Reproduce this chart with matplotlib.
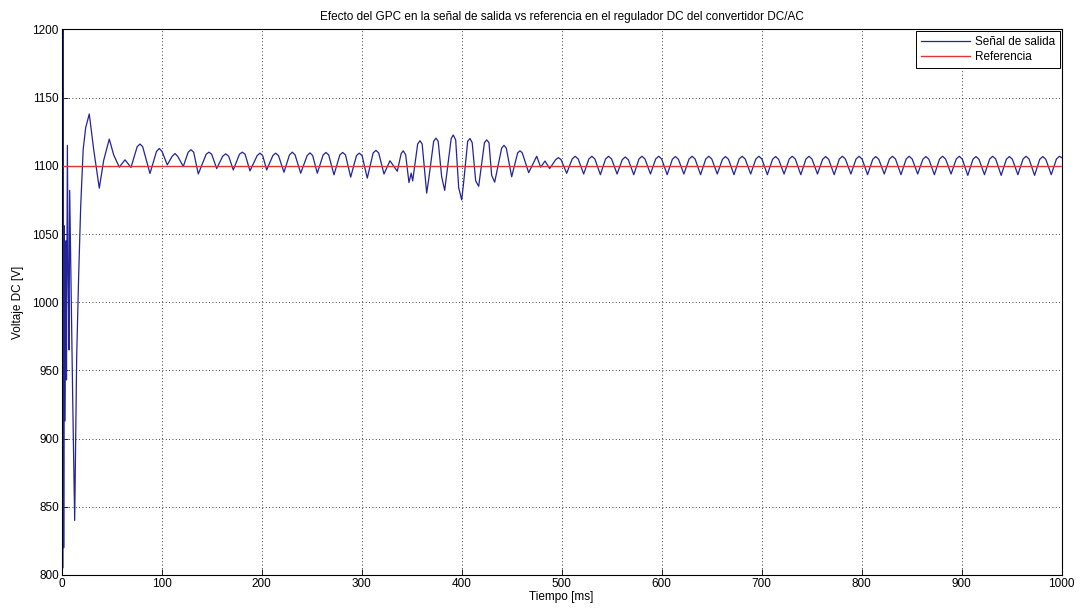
import numpy as np
import matplotlib.pyplot as plt

# ##### DATA #######################################

# transient + first damped oscillations (t in ms, V in volts)
t_start = [0, 0.5, 1.0, 1.5, 2.0, 2.6, 3.4, 4.2, 4.8, 5.7, 6.5, 7.4, 8.0, 9.0, 11.0, 13.0,
           15.0, 17.0, 19.0, 21.5, 24.0, 27.6, 32.0, 37.6, 42.0, 47.6, 52.0,
           57.6, 63.3, 69.3, 75.5, 78.3, 81.0, 88.3, 94.8, 97.6, 100.4, 105.6, 110.5, 113.3, 116.0, 121.6]
v_start = [790, 1300, 805, 1300, 820, 1056, 913, 1045, 943, 1115, 1020, 965, 1082, 1030, 930, 840,
           960, 1020, 1070, 1112, 1128, 1138, 1112, 1083.6, 1104, 1119.6, 1108,
           1099, 1104.4, 1098.8, 1114, 1116, 1114, 1094.4, 1110.5, 1112.7, 1110.5, 1100.7, 1107, 1109, 1107, 1099.5]

# regular ripple 125..340 ms (broad rounded tops, narrow troughs)
t_mid = [126.5, 129.3, 132.0, 136.6, 144.5, 147.3, 150.0, 155.0, 161.0, 164.0, 167.0, 171.6,
         177.8, 180.6, 183.4, 188.3, 195.5, 198.3, 201.0, 205.0, 211.2, 214.0, 216.8, 222.3,
         227.8, 230.6, 233.4, 239.0, 245.5, 248.3, 251.0, 255.6, 261.5, 264.3, 267.0, 272.3,
         278.2, 281.0, 283.8, 289.0, 294.8, 297.6, 300.4, 305.6, 311.5, 314.3, 317.0, 322.3,
         328.3, 335.6]
v_mid = [1110.0, 1111.8, 1110.0, 1094.0, 1108.5, 1110.0, 1108.5, 1098.0, 1107.0, 1108.8, 1107.0, 1097.0,
         1108.5, 1110.0, 1108.5, 1096.3, 1107.5, 1109.3, 1107.5, 1097.0, 1107.5, 1109.3, 1107.5, 1095.3,
         1108.0, 1110.0, 1108.0, 1094.6, 1107.5, 1109.5, 1107.5, 1094.6, 1108.0, 1109.8, 1108.0, 1093.4,
         1108.0, 1109.8, 1108.0, 1091.7, 1107.5, 1109.3, 1107.5, 1091.0, 1109.5, 1111.3, 1109.5, 1094.0,
         1103.7, 1096.0]

# disturbed part 340..505 ms
t_dist = [339.5, 341.6, 344.0, 347.3, 349.5, 351.0, 356.0, 358.3, 360.5, 365.0, 367.0, 372.0, 374.3, 376.5,
          380.0, 383.0, 389.5, 391.6, 394.0, 397.0, 400.0, 402.0, 406.0, 408.3, 410.5, 414.0, 417.0,
          422.8, 425.0, 427.3, 430.0, 433.0, 440.0, 442.3, 444.6, 450.0, 456.0, 458.3, 460.6, 467.0,
          475.0, 479.0, 483.3, 488.0, 494.0, 496.7, 499.4, 505.0]
v_dist = [1109.0, 1111.0, 1108.0, 1087.7, 1094.6, 1089.0, 1116.0, 1118.4, 1116.0, 1080.0, 1090.0, 1118.0, 1120.3, 1118.0,
          1092.0, 1082.0, 1120.0, 1122.6, 1119.0, 1084.0, 1075.0, 1088.0, 1118.0, 1120.0, 1117.0, 1089.0, 1085.0,
          1117.0, 1119.0, 1117.0, 1093.0, 1088.0, 1113.0, 1115.0, 1113.0, 1092.0, 1109.5, 1111.0, 1109.5, 1095.0,
          1107.0, 1099.0, 1103.5, 1098.0, 1104.5, 1106.0, 1104.5, 1094.5]

# steady state ripple 510..1000 ms: per cycle rounded top (3 points) and a narrow trough
t_end = [510.5, 513.5, 516.5, 522.0,  527.2, 530.2, 533.2, 538.7,  543.9, 546.9, 549.9, 555.4,
         560.6, 563.6, 566.6, 572.1,  577.3, 580.3, 583.3, 588.8,  594.0, 597.0, 600.0, 605.5,
         610.7, 613.7, 616.7, 622.2,  627.4, 630.4, 633.4, 638.9,  644.1, 647.1, 650.1, 655.6,
         660.8, 663.8, 666.8, 672.3,  677.5, 680.5, 683.5, 689.0,  694.2, 697.2, 700.2, 705.7,
         710.9, 713.9, 716.9, 722.4,  727.6, 730.6, 733.6, 739.1,  744.3, 747.3, 750.3, 755.8,
         761.0, 764.0, 767.0, 772.5,  777.7, 780.7, 783.7, 789.2,  794.4, 797.4, 800.4, 805.9,
         811.1, 814.1, 817.1, 822.6,  827.8, 830.8, 833.8, 839.3,  844.5, 847.5, 850.5, 856.0,
         861.2, 864.2, 867.2, 872.7,  877.9, 880.9, 883.9, 889.4,  894.6, 897.6, 900.6, 906.1,
         911.3, 914.3, 917.3, 922.8,  928.0, 931.0, 934.0, 939.5,  944.7, 947.7, 950.7, 956.2,
         961.4, 964.4, 967.4, 972.9,  978.1, 981.1, 984.1, 989.6,  994.8, 997.8, 1000.0]
v_end = [1105.0, 1107.0, 1105.0, 1094.0,  1105.0, 1107.0, 1105.0, 1093.5,  1105.0, 1107.0, 1105.0, 1094.0,
         1104.5, 1106.5, 1104.5, 1093.5,  1105.0, 1107.0, 1105.0, 1094.0,  1105.0, 1107.0, 1105.0, 1093.5,
         1104.8, 1106.8, 1104.8, 1094.0,  1105.0, 1107.0, 1105.0, 1093.5,  1105.0, 1107.0, 1105.0, 1094.0,
         1104.8, 1106.8, 1104.8, 1093.5,  1105.0, 1107.0, 1105.0, 1094.0,  1105.0, 1107.0, 1105.0, 1093.5,
         1104.8, 1106.8, 1104.8, 1094.0,  1105.0, 1107.0, 1105.0, 1093.5,  1105.0, 1107.0, 1105.0, 1094.0,
         1104.8, 1106.8, 1104.8, 1093.5,  1105.0, 1107.0, 1105.0, 1094.0,  1105.0, 1107.0, 1105.0, 1093.5,
         1104.8, 1106.8, 1104.8, 1094.0,  1105.0, 1107.0, 1105.0, 1093.5,  1105.0, 1107.0, 1105.0, 1094.0,
         1104.8, 1106.8, 1104.8, 1093.5,  1105.0, 1107.0, 1105.0, 1094.0,  1105.0, 1107.0, 1105.0, 1093.0,
         1104.8, 1106.8, 1104.8, 1093.5,  1105.0, 1107.0, 1105.0, 1093.0,  1104.8, 1106.8, 1104.8, 1093.5,
         1105.0, 1107.0, 1105.0, 1093.0,  1104.8, 1106.8, 1104.8, 1093.5,  1105.0, 1107.0, 1106.0]

t_ref = [0, 1000]
v_ref = [1100, 1100]

######################

t_out = np.array(t_start + t_mid + t_dist + t_end)
v_out = np.array(v_start + v_mid + v_dist + v_end)

plt.rcParams['font.family'] = ['Liberation Sans', 'DejaVu Sans']
plt.rcParams['font.size'] = 8.5

fig = plt.figure(figsize=(10.84, 6.13), dpi=100)
ax = fig.add_axes([0.0569, 0.062, 0.9225, 0.890])

ax.plot(t_out, v_out, color='#23239a', linewidth=0.9, label='Señal de salida')
ax.plot(t_ref, v_ref, color='#e03535', linewidth=1.0, label='Referencia')

ax.set_xlim(0, 1000)
ax.set_ylim(800, 1200)
ax.set_xticks(np.arange(0, 1001, 100))
ax.set_yticks(np.arange(800, 1201, 50))
ax.tick_params(direction='in', length=4, width=0.6, pad=2)
ax.grid(True, linestyle=(0, (1, 3)), color='black', linewidth=0.6)
for s in ax.spines.values():
    s.set_linewidth(0.8)

ax.set_xlabel('Tiempo [ms]', labelpad=1)
ax.set_ylabel('Voltaje DC [V]', labelpad=6)
ax.set_title('Efecto del GPC en la señal de salida vs referencia en el regulador DC del convertidor DC/AC',
             fontsize=8.5, pad=7)

leg = ax.legend(loc='upper right', fancybox=False, framealpha=1, edgecolor='black',
                handlelength=4.2, borderaxespad=0.15, handletextpad=0.4, labelspacing=0.3)
leg.get_frame().set_linewidth(0.7)

plt.savefig('out.png', dpi=100)
plt.close()
